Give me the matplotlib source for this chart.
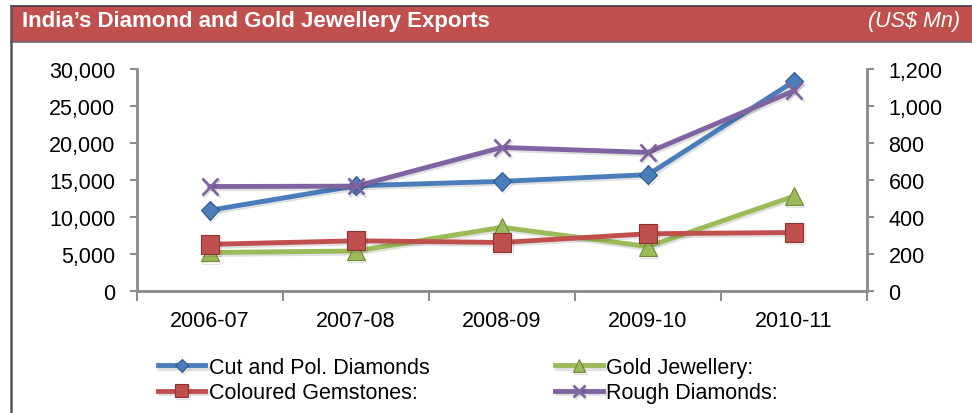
import matplotlib
matplotlib.use("Agg")
import matplotlib.pyplot as plt
import matplotlib.patheffects as pe
from matplotlib.lines import Line2D
from matplotlib.patches import Rectangle
from matplotlib.ticker import FuncFormatter, FixedLocator

plt.rcParams['font.family'] = ['Liberation Sans', 'DejaVu Sans']

# export values, US$ Mn
years = ["2006-07", "2007-08", "2008-09", "2009-10", "2010-11"]
cut_polished = [10900, 14200, 14800, 15700, 28300]       # left axis
gold_jewellery = [5200, 5400, 8600, 6000, 12800]         # left axis
coloured_gems = [252, 271, 262, 309, 316]                # right axis
rough_diamonds = [564, 566, 775, 748, 1081]              # right axis

BLUE = '#4A7EBB'
RED = '#C0504D'
GREEN = '#9BBB59'
PURPLE = '#8064A2'
AXIS_GREY = '#8C8C8C'

W, H = 972, 414
fig = plt.figure(figsize=(W / 100, H / 100), dpi=100)

# title band and outer frame
fig.patches.append(Rectangle((11 / W, 1 - 43 / H), 961 / W, 36 / H,
                             transform=fig.transFigure, facecolor=RED,
                             edgecolor='none', zorder=0))
fig.lines.append(Line2D([11 / W, 1], [1 - 7 / H, 1 - 7 / H],
                        transform=fig.transFigure, color='#3a3a3a', lw=1.2))
fig.lines.append(Line2D([11 / W, 1], [1 - 43 / H, 1 - 43 / H],
                        transform=fig.transFigure, color='#6b6b6b', lw=1.2))
fig.lines.append(Line2D([11 / W, 11 / W], [0, 1 - 7 / H],
                        transform=fig.transFigure, color='#555555', lw=1.8))
fig.text(22 / W, 1 - 27.5 / H, "India\u2019s Diamond and Gold Jewellery Exports",
         color='white', fontsize=16, fontweight='bold', va='baseline')
fig.text(960 / W, 1 - 27.5 / H, "(US$ Mn)", color='white', fontsize=15.5,
         style='italic', ha='right', va='baseline')

ax = fig.add_axes([137 / W, 1 - 292 / H, 730 / W, 222.3 / H])
ax2 = ax.twinx()

x = list(range(len(years)))
shadow = [pe.SimpleLineShadow(offset=(1, -1.5), shadow_color='black', alpha=0.12),
          pe.Normal()]

l1, = ax.plot(x, cut_polished, color=BLUE, lw=3.5, marker='D', ms=9.5,
              mfc=BLUE, mec='#2C5A8C', mew=0.8, path_effects=shadow,
              label='Cut and Pol. Diamonds')
l2, = ax.plot(x, gold_jewellery, color=GREEN, lw=3.5, marker='^', ms=13,
              mfc=GREEN, mec='#6E8A38', mew=0.8, path_effects=shadow,
              label='Gold Jewellery:')
l3, = ax2.plot(x, coloured_gems, color=RED, lw=3.5, marker='s', ms=13.5,
               mfc=RED, mec='#8C3230', mew=0.8, path_effects=shadow,
               label='Coloured Gemstones:')
l4, = ax2.plot(x, rough_diamonds, color=PURPLE, lw=3.5, marker='x', ms=12,
               mew=2, path_effects=shadow, label='Rough Diamonds:')

ax.set_xlim(-0.5, len(years) - 0.5)
ax.set_ylim(0, 30000)
ax2.set_ylim(0, 1200)
ax.set_yticks(range(0, 30001, 5000))
ax2.set_yticks(range(0, 1201, 200))
fmt = FuncFormatter(lambda v, p: f"{int(v):,}")
ax.yaxis.set_major_formatter(fmt)
ax2.yaxis.set_major_formatter(fmt)

# category boundaries get the tick marks, names sit between them
ax.xaxis.set_major_locator(FixedLocator([i - 0.5 for i in range(len(years) + 1)]))
ax.xaxis.set_minor_locator(FixedLocator(x))
ax.set_xticklabels([''] * (len(years) + 1))
ax.set_xticklabels(years, minor=True)
ax.tick_params(axis='x', which='major', direction='out', length=7, width=1.5,
               color=AXIS_GREY)
ax.tick_params(axis='x', which='minor', length=0, pad=14, labelsize=15.5)

ax.tick_params(axis='y', direction='out', length=5, width=1.5, color=AXIS_GREY,
               pad=10.5, labelsize=15.5)
ax2.tick_params(axis='y', direction='out', length=5, width=1.5, color=AXIS_GREY,
                pad=10.5, labelsize=15.5)

for a in (ax, ax2):
    a.spines['top'].set_visible(False)
    for s in ('left', 'right', 'bottom'):
        a.spines[s].set_color(AXIS_GREY)
        a.spines[s].set_linewidth(1.8)
    a.patch.set_visible(False)

fig.legend([l1, l3, l2, l4],
           [l1.get_label(), l3.get_label(), l2.get_label(), l4.get_label()],
           ncol=2, loc='upper left', bbox_to_anchor=(158 / W, 1 - 358 / H),
           frameon=False, borderpad=0, borderaxespad=0, fontsize=15.5,
           handlelength=2.2, handletextpad=0.15, columnspacing=5.85,
           labelspacing=0.2, markerscale=0.7)

fig.savefig("out.png", dpi=100)
